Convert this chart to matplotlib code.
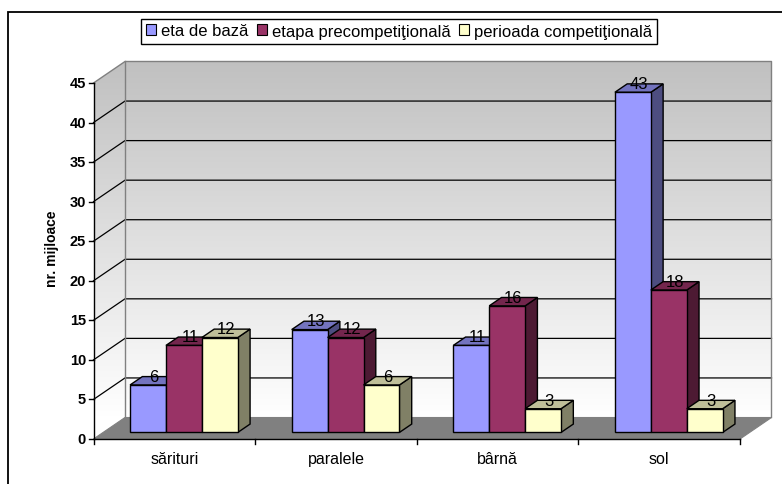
import matplotlib
matplotlib.use("Agg")
import matplotlib.pyplot as plt
from matplotlib.patches import Polygon, Patch, Rectangle
from matplotlib.colors import to_rgb, LinearSegmentedColormap
import numpy as np

plt.rcParams['font.family'] = ['Liberation Sans', 'DejaVu Sans']

# ---------------- data ----------------
categories = ["sărituri", "paralele", "bârnă", "sol"]
series_names = ["eta de bază", "etapa precompetiţională", "perioada competiţională"]
eta_de_baza = [6, 13, 11, 43]
etapa_precompetitionala = [11, 12, 16, 18]
perioada_competitionala = [12, 6, 3, 3]
series_values = [eta_de_baza, etapa_precompetitionala, perioada_competitionala]
y_ticks = list(range(0, 50, 5))
y_label = "nr. mijloace"

# ---------------- style ----------------
colors = ['#9999FF', '#993366', '#FFFFCC']

W, H = 782, 485
fig = plt.figure(figsize=(W / 100, H / 100), dpi=100)
ax = fig.add_axes([0, 0, 1, 1])

# layout of the front plane in pixels
px_left, px_right = 93.5, 740.0      # front x-extent of plot
px_zero, px_top = 440.0, 84.0        # y pixel (from top) of value 0 and 45
ymax = 45
ncat = len(categories)
ppc = (px_right - px_left) / ncat    # pixels per category
ppu = (px_zero - px_top) / ymax      # pixels per unit
ax.set_xlim(-0.5 - px_left / ppc, -0.5 + (W - px_left) / ppc)
ax.set_ylim(-(H - px_zero) / ppu, px_zero / ppu)
ax.axis('off')

DX = 31.5 / ppc   # depth offset in category units
DY = 21.5 / ppu   # depth offset in value units
xl, xr = -0.5, ncat - 0.5

# --- walls with gradient ---
wall_poly = Polygon([(xl, 0), (xl, ymax), (xl + DX, ymax + DY), (xr + DX, ymax + DY),
                     (xr + DX, DY), (xl + DX, DY)], closed=True, facecolor='none',
                    edgecolor='none')
ax.add_patch(wall_poly)
cmap = LinearSegmentedColormap.from_list('wall', ['#ffffff', '#c0c0c0'])
grad = np.linspace(0, 1, 256).reshape(-1, 1)
img = ax.imshow(grad, cmap=cmap, origin='lower', aspect='auto',
                extent=[xl, xr + DX, DY, ymax + DY], zorder=1, interpolation='bilinear')
img.set_clip_path(wall_poly)
ax.add_patch(Polygon([(xl, 0), (xl + DX, DY), (xl, DY)], closed=True,
                     facecolor='white', edgecolor='none', zorder=0.9))

# gridlines
for v in y_ticks[1:-1]:
    ax.plot([xl, xl + DX, xr + DX], [v, v + DY, v + DY], color='black', lw=0.9,
            zorder=2, solid_joinstyle='miter')

# wall edges
gray = '#808080'
ax.plot([xl, xl + DX, xr + DX, xr + DX], [ymax, ymax + DY, ymax + DY, DY],
        color=gray, lw=1, zorder=2)
ax.plot([xl + DX, xl + DX], [DY, ymax + DY], color=gray, lw=1, zorder=2)

# floor
ax.add_patch(Polygon([(xl, 0), (xr, 0), (xr + DX, DY), (xl + DX, DY)], closed=True,
                     facecolor='#808080', edgecolor='#808080', lw=0.8, zorder=2.5))

# axes lines
ax.plot([xl, xl], [0, ymax], color='black', lw=1, zorder=3)
ax.plot([xl, xr], [0, 0], color='black', lw=1, zorder=3)
tick_x = 5 / ppc
tick_y = 5 / ppu
for v in y_ticks:
    ax.plot([xl - tick_x, xl], [v, v], color='black', lw=1, zorder=3)
    ax.text(xl - 7.5 / ppc, v, str(v), ha='right', va='center', fontsize=10.5,
            fontweight='bold', zorder=3)
for k in range(ncat + 1):
    ax.plot([xl + k, xl + k], [0, -tick_y], color='black', lw=1, zorder=3)
for i, c in enumerate(categories):
    ax.text(i, -20 / ppu, c, ha='center', va='center', fontsize=11.5, zorder=3)

ax.text(xl - 41.5 / ppc, (px_zero - 249) / ppu, y_label, rotation=90, ha='center',
        va='center', fontsize=10, fontweight='bold')

# bars
w = 1 / 4.5
f0, f1 = 0.305, 0.695
def shade(c, f):
    r, g, b = to_rgb(c)
    return (r * f, g * f, b * f)

z = 5
for i in range(ncat):
    for j, vals in enumerate(series_values):
        v = vals[i]
        col = colors[j]
        x0 = i - 1.5 * w + j * w
        a0x, a0y = x0 + f0 * DX, f0 * DY
        a1x, a1y = x0 + f1 * DX, f1 * DY
        side = [(a0x + w, a0y), (a1x + w, a1y), (a1x + w, v + a1y), (a0x + w, v + a0y)]
        top = [(a0x, v + a0y), (a0x + w, v + a0y), (a1x + w, v + a1y), (a1x, v + a1y)]
        front = [(a0x, a0y), (a0x + w, a0y), (a0x + w, v + a0y), (a0x, v + a0y)]
        ax.add_patch(Polygon(side, closed=True, facecolor=shade(col, 0.5),
                             edgecolor='black', lw=1, zorder=z, joinstyle='miter'))
        ax.add_patch(Polygon(top, closed=True, facecolor=shade(col, 0.75),
                             edgecolor='black', lw=1, zorder=z + 0.1, joinstyle='miter'))
        ax.add_patch(Polygon(front, closed=True, facecolor=col,
                             edgecolor='black', lw=1, zorder=z + 0.2, joinstyle='miter'))
        z += 1
        ax.text(x0 + w / 2 + (f0 + f1) / 2 * DX, v + (f0 + f1) / 2 * DY, str(v),
                ha='center', va='baseline', fontsize=12, zorder=100)

# legend
handles = [Patch(facecolor=c, edgecolor='black', lw=0.8) for c in colors]
leg = fig.legend(handles, series_names, loc='center', bbox_to_anchor=(399 / W, 1 - 32 / H),
                 ncol=3, frameon=True, fancybox=False, framealpha=1, edgecolor='black',
                 fontsize=12, handlelength=0.6, handleheight=0.6, handletextpad=0.3,
                 columnspacing=0.5, borderpad=0.3, borderaxespad=0)
leg.get_frame().set_linewidth(1)

# outer border (left & top visible)
fig.patches.append(Rectangle((8 / W, -0.1), 1.2, (H - 13) / H + 0.1, transform=fig.transFigure,
                             fill=False, edgecolor='black', lw=1.3))

fig.savefig('out.png', dpi=100)
